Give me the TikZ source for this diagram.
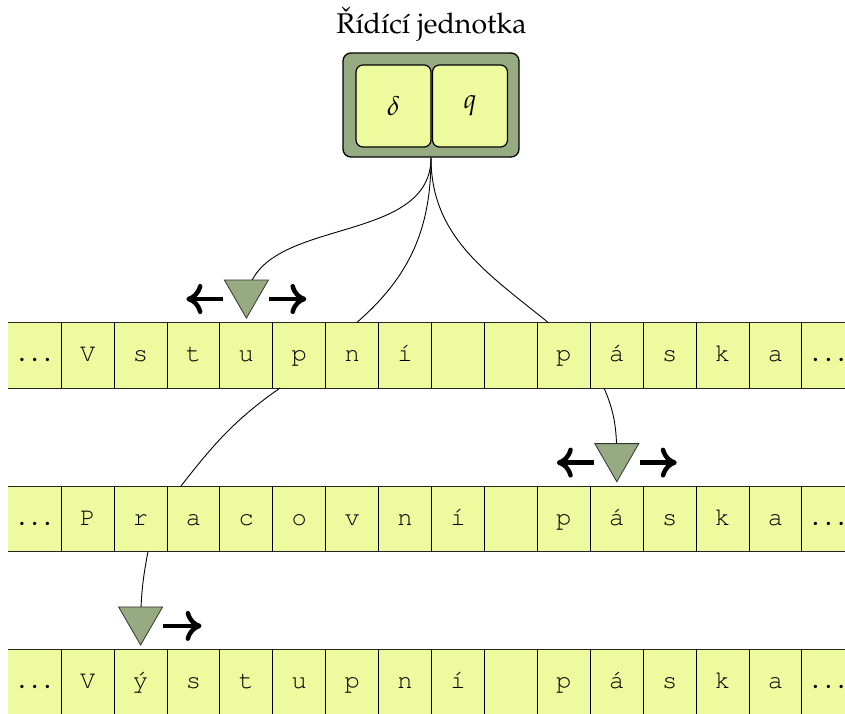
\documentclass[tikz,border=0pt]{standalone}
\usepackage[T1]{fontenc}
\usepackage{mathpazo}
\usetikzlibrary{arrows.meta,shapes.geometric,calc}
\definecolor{tapefill}{RGB}{237,251,158}
\definecolor{headfill}{RGB}{151,171,131}
\newcommand{\tapefont}{\fontencoding{T1}\fontfamily{pcr}\fontsize{25.5}{30}\selectfont}
\newcommand{\titlefont}{\fontencoding{T1}\fontfamily{ppl}\fontsize{28.5}{34}\selectfont}
\newcommand{\symfont}{\fontsize{27}{32}\selectfont}
\newcommand{\tapedots}{{\fontsize{29}{34}\selectfont$\ldots$}}
\begin{document}
\begin{tikzpicture}[x=1pt,y=-1pt,
  cell/.style={rectangle, fill=tapefill, minimum width=52.91pt, minimum height=65.7pt,
    inner sep=0pt, outer sep=0pt, font=\tapefont, text height=16pt, text depth=3pt},
  border/.style={line width=1pt, black!85},
  sep/.style={line width=1pt, black},
  head/.style={regular polygon, regular polygon sides=3, shape border rotate=180,
    minimum size=50.8pt, inner sep=0pt, fill=headfill, draw=black!80, line width=0.8pt},
  move/.style={line width=4.5pt, -{Computer Modern Rightarrow[length=16pt,width=30pt]}},
  link/.style={line width=0.9pt},
  cubox/.style={rectangle, rounded corners=8pt, fill=headfill, draw=black, line width=1.3pt,
    minimum width=176pt, minimum height=104pt, inner sep=0pt},
  inbox/.style={rectangle, rounded corners=7pt, fill=tapefill, draw=black, line width=1.2pt,
    minimum width=75pt, minimum height=82pt, inner sep=0pt, font=\symfont},
]
\useasboundingbox (0,0) rectangle (845,713);

% tapes
\foreach \n/\s in {0/\tapedots,1/V,2/s,3/t,4/u,5/p,6/n,7/{\'{\i}},8/{},9/{},10/p,11/{\'a},12/s,13/k,14/a,15/\tapedots}
  \node[cell] (a\n) at ({8.3+52.91*(\n+0.5)},355.15) {\s};
\foreach \n/\s in {0/\tapedots,1/P,2/r,3/a,4/c,5/o,6/v,7/n,8/{\'{\i}},9/{},10/p,11/{\'a},12/s,13/k,14/a,15/\tapedots}
  \node[cell] (b\n) at ({8.3+52.91*(\n+0.5)},518.85) {\s};
\foreach \n/\s in {0/\tapedots,1/V,2/{\'y},3/s,4/t,5/u,6/p,7/n,8/{\'{\i}},9/{},10/p,11/{\'a},12/s,13/k,14/a,15/\tapedots}
  \node[cell] (c\n) at ({8.3+52.91*(\n+0.5)},682.15) {\s};
\foreach \t in {a,b,c}{
  \draw[border] (\t0.north west) -- (\t15.north east);
  \draw[border] (\t0.south west) -- (\t15.south east);
  \foreach \n in {1,...,15}
    \draw[sep] (\t\n.north west) -- (\t\n.south west);
}

% control unit
\node[cubox] (cu) at (431,105) {};
\node[inbox] (delta) at (393.5,106) {$\delta$};
\node[inbox] (state) at (470,106) {$q$};
\node[anchor=base, font=\titlefont, inner sep=0pt] (title) at (431.5,33) {\v{R}\'{\i}d\'{\i}c\'{\i} jednotka};

% heads
\coordinate (h1pos) at (246.4,292.7);
\coordinate (h2pos) at (616.8,456.3);
\coordinate (h3pos) at (140.6,619.6);

% connectors
\draw[link] (cu.south) to[out=-90,in=90] ([yshift=-12.7]h1pos);
\draw[link] (cu.south) to[out=-90,in=41] ([xshift=4.8]a6.north);
\draw[link] (cu.south) to[out=-90,in=141] ([xshift=-15.9]a10.north);
\draw[link] ([xshift=-19.3]a5.south) to[out=-145,in=52] ([xshift=-12.5]b3.north);
\draw[link] ([xshift=-12.8]a11.south) to[out=-66,in=90] ([yshift=-12.7]h2pos);
\draw[link] ([xshift=7.4]b2.south) to[out=-101,in=90] ([yshift=-12.7]h3pos);

\node[head] (h1) at (h1pos) {};
\node[head] (h2) at (h2pos) {};
\node[head] (h3) at (h3pos) {};

% movement arrows
\draw[move] ([shift={(-23,6.3)}]h1.center) -- ([shift={(-60,6.3)}]h1.center);
\draw[move] ([shift={(23,6.3)}]h1.center) -- ([shift={(60,6.3)}]h1.center);
\draw[move] ([shift={(-23,6.3)}]h2.center) -- ([shift={(-60,6.3)}]h2.center);
\draw[move] ([shift={(23,6.3)}]h2.center) -- ([shift={(60,6.3)}]h2.center);
\draw[move] ([shift={(22,6.3)}]h3.center) -- ([shift={(61,6.3)}]h3.center);
\end{tikzpicture}
\end{document}
